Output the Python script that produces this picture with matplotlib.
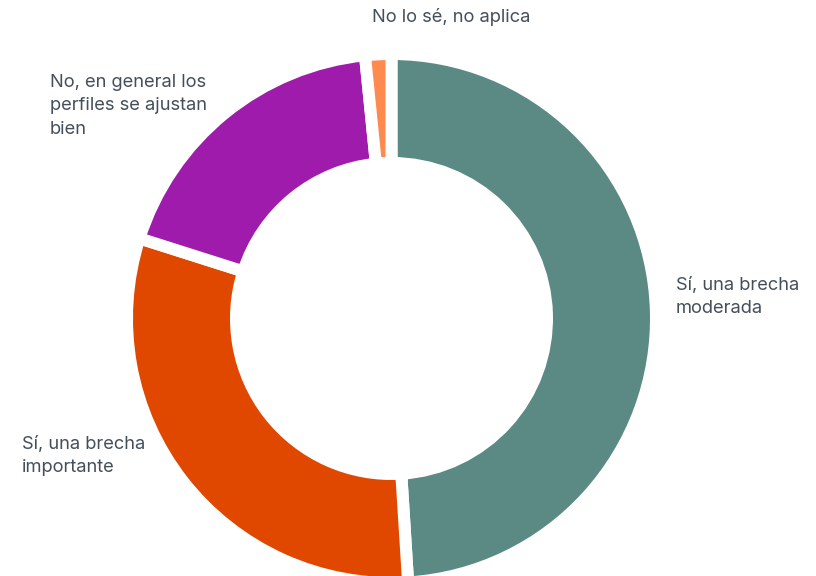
import matplotlib.pyplot as plt

# survey answers, clockwise from 12 o'clock
labels = ['Sí, una brecha\nmoderada', 'Sí, una brecha\nimportante',
          'No, en general los\nperfiles se ajustan\nbien', 'No lo sé, no aplica']
shares = [49.0, 30.9, 18.5, 1.6]
colors = ['#5B8A84', '#E04800', '#9E1BAB', '#FF8A50']

# where each label block sits (left edge x, centre y), in pixel units
label_pos = [(676, 576 - 297), (22, 576 - 456), (50, 576 - 106), (372, 576 - 17)]

plt.rcParams['font.family'] = ['Inter', 'DejaVu Sans']

fig = plt.figure(figsize=(8.16, 5.76), dpi=100)
ax = fig.add_axes([0, 0, 1, 1])
ax.set_xlim(0, 816)
ax.set_ylim(0, 576)
ax.set_aspect('equal')
ax.axis('off')

gap = 12 * 72 / 100  # white separator, in points
ax.pie(shares, colors=colors, startangle=90, counterclock=False,
       center=(391.5, 257.5), radius=264.5,
       wedgeprops=dict(width=109, edgecolor='white', linewidth=gap))

for txt, (x, y) in zip(labels, label_pos):
    ax.text(x, y, txt, ha='left', va='center', fontsize=13.2,
            color='#454F5B', linespacing=1.5)

ax.set_xlim(0, 816)
ax.set_ylim(0, 576)

fig.savefig('out.png', dpi=100)
